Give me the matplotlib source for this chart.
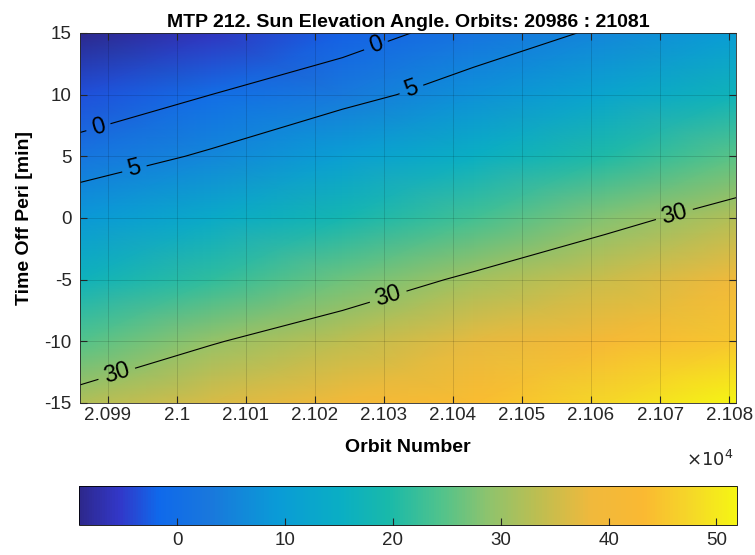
#!/usr/bin/env python3
"""MTP 212 sun elevation angle map, orbit number vs time off pericentre."""

import matplotlib

matplotlib.use("Agg")
import matplotlib.pyplot as plt
import numpy as np
from matplotlib.colors import LinearSegmentedColormap

plt.rcParams["font.family"] = ["Liberation Sans", "DejaVu Sans"]
plt.rcParams["axes.unicode_minus"] = False

# grid (sun elevation, deg)
ORBITS = [20986, 21005, 21024, 21043, 21062, 21081]
TIMES = [-15, -10, -5, 0, 5, 10, 15]  # min
ELEVATION = [
    # one row per time, one column per orbit
    [32.2, 36.0, 39.8, 43.7, 47.5, 51.9],
    [24.7, 29.6, 33.5, 37.4, 41.2, 45.1],
    [16.8, 21.6, 26.5, 31.0, 34.9, 38.7],
    [8.8, 13.7, 18.5, 23.3, 28.2, 32.4],
    [2.2, 5.7, 10.5, 15.4, 20.2, 25.1],
    [-3.5, 0.0, 3.3, 7.4, 12.3, 17.1],
    [-9.1, -5.8, -2.2, 2.0, 5.8, 9.8],
]
LEVELS = [0, 5, 30]
X_TICKS = [20990, 21000, 21010, 21020, 21030, 21040, 21050, 21060, 21070, 21080]
X_TICK_LABELS = ["2.099", "2.1", "2.101", "2.102", "2.103",
                 "2.104", "2.105", "2.106", "2.107", "2.108"]
Y_TICKS = [-15, -10, -5, 0, 5, 10, 15]
CB_TICKS = [0, 10, 20, 30, 40, 50]
CLIM = (-9.1, 51.9)
LABEL_SPOTS = [(20988.9, 6.9), (21028.9, 13.9), (20994.0, 3.7), (21034.0, 10.4),
               (20991.3, -12.6), (21030.8, -6.7), (21072.4, -0.4)]

# parula-like map, colours picked off the reference colour bar
PARULA_STOPS = [
    (0.00, (45, 40, 140)), (0.06, (50, 55, 200)), (0.12, (15, 105, 235)),
    (0.20, (25, 120, 220)), (0.30, (10, 155, 215)), (0.40, (10, 175, 195)),
    (0.47, (25, 185, 170)), (0.55, (80, 195, 140)), (0.62, (140, 195, 110)),
    (0.70, (190, 190, 80)), (0.78, (240, 185, 60)), (0.86, (250, 185, 50)),
    (0.93, (245, 215, 40)), (1.00, (245, 245, 20)),
]
PARULA = LinearSegmentedColormap.from_list(
    "parula", [(p, tuple(c / 255 for c in rgb)) for p, rgb in PARULA_STOPS])


def main() -> None:
    z = np.array(ELEVATION)
    fig = plt.figure(figsize=(7.55, 5.55), dpi=100)
    ax = fig.add_axes([0.106, 0.2739, 0.8689, 0.6667])
    cax = fig.add_axes([0.1046, 0.0540, 0.8715, 0.0703])

    mesh = ax.pcolormesh(ORBITS, TIMES, z, shading="gouraud", cmap=PARULA,
                         vmin=CLIM[0], vmax=CLIM[1])
    cs = ax.contour(ORBITS, TIMES, z, levels=LEVELS, colors="k", linewidths=0.8)
    ax.clabel(cs, fmt="%d", fontsize=17, manual=LABEL_SPOTS, inline=True,
              inline_spacing=6)

    ax.set_xlim(ORBITS[0], ORBITS[-1])
    ax.set_ylim(TIMES[0], TIMES[-1])
    ax.set_xticks(X_TICKS)
    ax.set_xticklabels(X_TICK_LABELS)
    ax.set_yticks(Y_TICKS)
    ax.tick_params(direction="in", top=True, right=True, length=5,
                   labelsize=13.5, colors="#262626")
    ax.tick_params(axis="x", pad=3)
    ax.tick_params(axis="y", pad=6)
    ax.grid(True, color="k", alpha=0.15, linewidth=0.6)
    for s in ax.spines.values():
        s.set_color("#262626")
        s.set_linewidth(0.6)

    ax.set_title("MTP 212. Sun Elevation Angle. Orbits: 20986 : 21081",
                 fontsize=14, fontweight="bold", pad=4)
    ax.set_xlabel("Orbit Number", fontsize=14, fontweight="bold", labelpad=11)
    ax.set_ylabel("Time Off Peri [min]", fontsize=14, fontweight="bold",
                  labelpad=8)
    fig.text(0.972, 0.172, r"$\times10^4$", ha="right", va="center",
             fontsize=13, color="#262626")

    cb = fig.colorbar(mesh, cax=cax, orientation="horizontal")
    cb.set_ticks(CB_TICKS)
    cb.ax.tick_params(direction="in", length=5, labelsize=13.5,
                      colors="#262626", pad=5)
    cb.outline.set_linewidth(0.6)

    fig.savefig("out.png", dpi=100)
    plt.close(fig)


if __name__ == "__main__":
    main()
